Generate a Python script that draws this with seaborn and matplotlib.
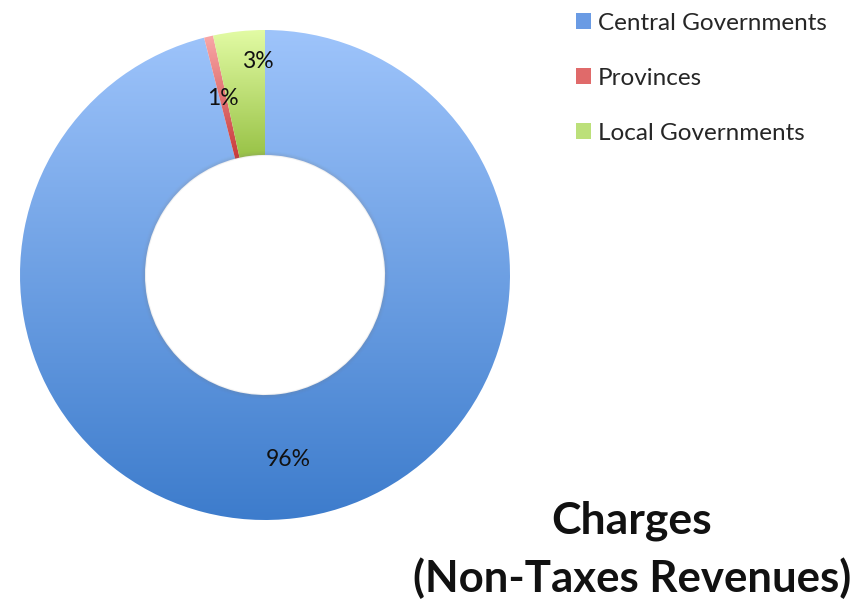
import numpy as np
import matplotlib
matplotlib.use("Agg")
import matplotlib.pyplot as plt
from matplotlib.colors import LinearSegmentedColormap
from matplotlib.patches import Patch, Circle
import seaborn as sns

# Revenue shares of charges (non-tax revenues), percent
categories = ["Central Governments", "Provinces", "Local Governments"]
shares = [96.0, 0.6, 3.4]

# Vertical gradient endpoints (top, bottom) for each segment
top_colors = ["#9EC4FB", "#F9A8A8", "#E2FBA4"]
bottom_colors = ["#3D7CCC", "#C83A3A", "#98C246"]
legend_colors = ["#6A9BE4", "#E06A6A", "#BCE07A"]

title_lines = ["Charges", "(Non-Taxes Revenues)"]

sns.set_theme(style="white")
plt.rcParams["font.family"] = ["Lato", "DejaVu Sans"]

fig = plt.figure(figsize=(8.66, 6.02), dpi=100)
W, H = 866, 602
cx, cy, R = 265, 275, 245
ax = fig.add_axes([(cx - R) / W, (H - cy - R) / H, 2 * R / W, 2 * R / H])
ax.set_xlim(-1, 1)
ax.set_ylim(-1, 1)
ax.axis("off")

ring_width = 0.51
wedges, _ = ax.pie(shares, startangle=90, counterclock=False, radius=1.0,
                   wedgeprops=dict(width=ring_width, linewidth=0),
                   colors=legend_colors)

grad = np.linspace(1, 0, 256).reshape(-1, 1)
for w, c0, c1 in zip(wedges, top_colors, bottom_colors):
    x0, y0, x1, y1 = w.get_path().get_extents().extents
    cmap = LinearSegmentedColormap.from_list("g", [c1, c0])
    im = ax.imshow(grad, cmap=cmap, extent=(x0, x1, y0, y1), aspect="auto",
                   origin="upper", interpolation="bicubic", zorder=2)
    im.set_clip_path(w)
    w.set_visible(False)

ax.set_xlim(-1, 1)
ax.set_ylim(-1, 1)

# soft shading along the inner rim of the ring
inner_r = 1.0 - ring_width
for k, a in enumerate([0.10, 0.07, 0.04, 0.02]):
    ax.add_patch(Circle((0, 0), inner_r + 0.004 * k, fill=False,
                        edgecolor="#808080", linewidth=1.6, alpha=a, zorder=3))

# percentage labels placed along each segment (clockwise from 12 o'clock)
label_dist = [0.76, 0.74, 0.87]
label_frac = [0.5, 0.5, 0.85]
start = 90.0
for val, d, f in zip(shares, label_dist, label_frac):
    ang = np.deg2rad(start - f * val / 100 * 360)
    ax.text(d * np.cos(ang), d * np.sin(ang), f"{val:.0f}%", ha="center",
            va="center", fontsize=16.5, color="#111111", zorder=5)
    start -= val / 100 * 360

handles = [Patch(facecolor=c, edgecolor="none") for c in legend_colors]
fig.legend(handles, categories, loc="upper left",
           bbox_to_anchor=(566 / W, 1 - 3 / H), frameon=False,
           fontsize=17.5, handlelength=0.62, handleheight=0.62,
           handletextpad=0.3, labelspacing=1.4, borderaxespad=0)

fig.text(632 / W, 1 - 521 / H, title_lines[0], ha="center", va="center",
         fontsize=32, fontweight="bold", color="#111111")
fig.text(632 / W, 1 - 578 / H, title_lines[1], ha="center", va="center",
         fontsize=31.5, fontweight="bold", color="#111111")

fig.savefig("out.png", dpi=100, facecolor="white")
